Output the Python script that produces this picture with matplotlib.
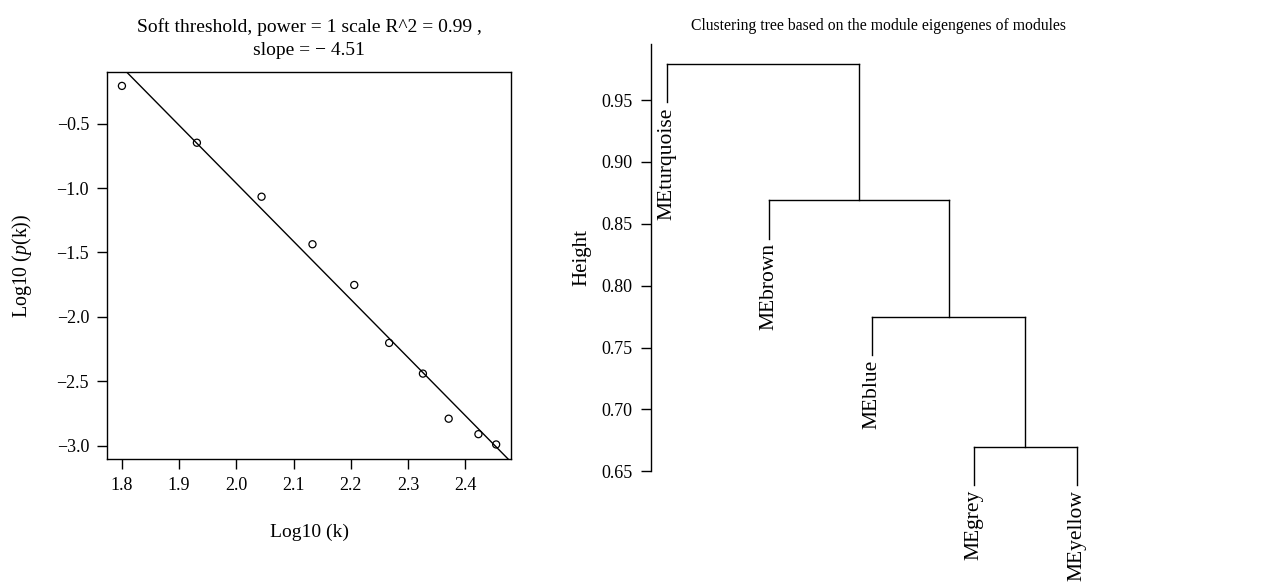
import numpy as np
import matplotlib
matplotlib.use('Agg')
import matplotlib.pyplot as plt

plt.rcParams['font.family'] = ['Liberation Serif', 'DejaVu Serif']
plt.rcParams['mathtext.fontset'] = 'custom'
plt.rcParams['mathtext.rm'] = 'Liberation Serif'
plt.rcParams['mathtext.it'] = 'Liberation Serif:italic'

# scale-free topology fit data
log_k = [1.800, 1.931, 2.044, 2.133, 2.206, 2.267, 2.326, 2.371, 2.423, 2.454]
log_pk = [-0.207, -0.648, -1.067, -1.436, -1.752, -2.202, -2.440, -2.790, -2.910, -2.990]
x_ticks = [1.8, 1.9, 2.0, 2.1, 2.2, 2.3, 2.4]
y_ticks = [-3.0, -2.5, -2.0, -1.5, -1.0, -0.5]

# dendrogram of module eigengenes
leaf_labels = ['MEturquoise', 'MEbrown', 'MEblue', 'MEgrey', 'MEyellow']
# merges: (left child, right child, height); negative = leaf index, positive = merge number
merges = [(-4, -5, 0.670), (-3, 1, 0.775), (-2, 2, 0.869), (-1, 3, 0.979)]
h_ticks = [0.65, 0.70, 0.75, 0.80, 0.85, 0.90, 0.95]

fig = plt.figure(figsize=(12.76, 5.82), dpi=100)

# ---- left panel: scale free plot
ax1 = fig.add_axes([0.0839, 0.2113, 0.3166, 0.665])
ax1.scatter(log_k, log_pk, s=26, facecolors='none', edgecolors='black', linewidths=0.9, zorder=3)
slope, intercept = np.polyfit(log_k, log_pk, 1)
ax1.axline((2.0, intercept + slope * 2.0), slope=slope, color='black', lw=1.0)
ax1.set_xlim(1.774, 2.48)
ax1.set_ylim(-3.103, -0.099)
ax1.set_xticks(x_ticks)
ax1.set_yticks(y_ticks)
ax1.tick_params(direction='out', length=7, width=1, labelsize=13, pad=6)
for sp in ax1.spines.values():
    sp.set_linewidth(1.0)
ax1.set_xlabel('Log10 (k)', fontsize=14, labelpad=21)
ax1.set_ylabel('Log10 ($p$(k))', fontsize=14.3, labelpad=16)
ax1.set_title('Soft threshold, power = 1 scale R^2 = 0.99 ,\nslope = \u2212 4.51',
              fontsize=14, pad=12, linespacing=1.5)

# ---- right panel: clustering tree
ax2 = fig.add_axes([0.5099, 0.1902, 0.3467, 0.7347])
hang = 0.1 * (max(m[2] for m in merges) - min(m[2] for m in merges))
pos = {}
top = {}
for i, (a, b, h) in enumerate(merges, start=1):
    xs = []
    for c in (a, b):
        if c < 0:
            xc = -c
            yc = h - hang
            ax2.text(xc, yc - 0.004, leaf_labels[-c - 1], rotation=90, ha='center', va='top',
                     fontsize=15.5, clip_on=False)
        else:
            xc = pos[c]
            yc = top[c]
        ax2.plot([xc, xc], [yc, h], color='black', lw=1.0, clip_on=False)
        xs.append(xc)
    ax2.plot(xs, [h, h], color='black', lw=1.0, clip_on=False)
    pos[i] = np.mean(xs)
    top[i] = h

ax2.set_xlim(0.84, 5.16)
ax2.set_ylim(0.65, 0.9955)
ax2.set_yticks(h_ticks)
ax2.set_yticklabels(['%.2f' % t for t in h_ticks])
ax2.set_xticks([])
for s in ['top', 'right', 'bottom']:
    ax2.spines[s].set_visible(False)
ax2.spines['left'].set_linewidth(1.0)
ax2.tick_params(direction='out', length=7, width=1, labelsize=13, pad=6)
ax2.set_ylabel('Height', fontsize=15, labelpad=7)
ax2.set_title('Clustering tree based on the module eigengenes of modules', fontsize=11.3, pad=10, x=0.514)

fig.savefig('out.png', dpi=100)
